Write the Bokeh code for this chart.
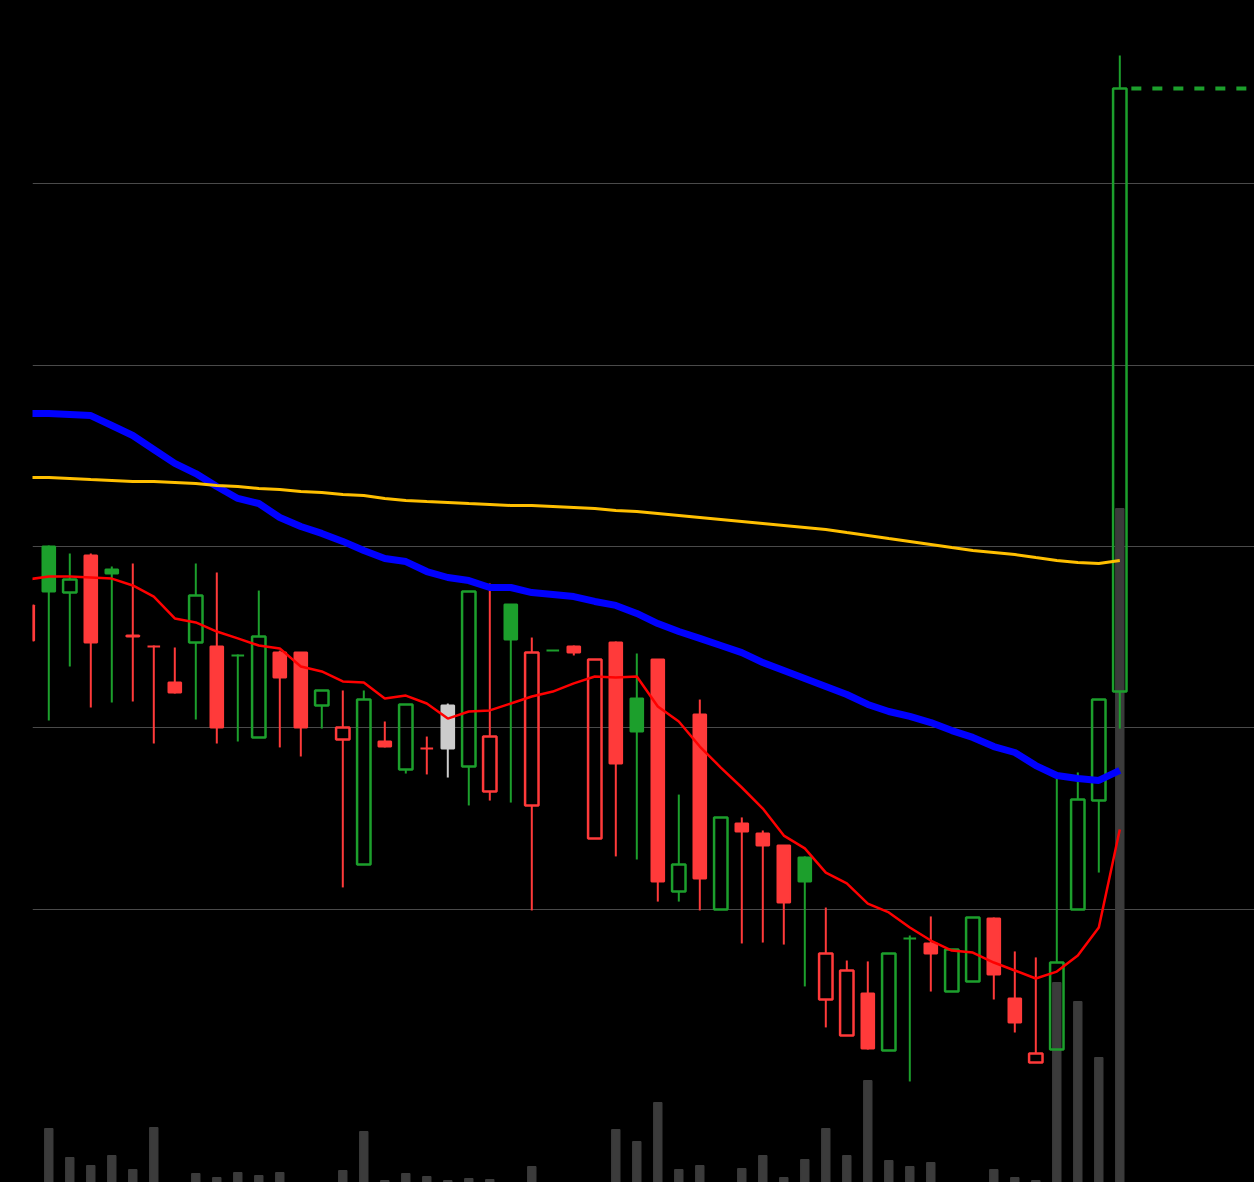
from bokeh.plotting import figure
from bokeh.models import Range1d, FixedTicker, ColumnDataSource, GlobalInlineStyleSheet
from bokeh.embed import file_html
from bokeh.resources import INLINE

# ---------------- data (daily OHLC, price units) ----------------
open_ = [2.675, 3.000, 2.746, 2.950, 2.873, 2.509, 2.449, 2.250, 2.471, 2.449,
         2.399, 1.947, 2.415, 2.415, 2.123, 1.936, 1.246, 1.925, 1.770, 1.886,
         2.123, 1.787, 1.649, 2.680, 1.572, 2.426, 2.449, 1.390, 2.471, 2.162,
         2.377, 1.098, 2.074, 0.998, 1.473, 1.417, 1.351, 1.285, 0.502, 0.304,
         0.535, 0.221, 0.838, 0.811, 0.546, 0.601, 0.949, 0.508, 0.155, 0.226,
         0.998, 1.599, 2.200]
high = [2.713, 3.005, 2.961, 2.961, 2.890, 2.906, 2.454, 2.443, 2.906, 2.857,
        2.404, 2.757, 2.426, 2.415, 2.206, 2.206, 2.206, 2.035, 2.129, 1.952,
        2.134, 2.752, 2.796, 2.680, 2.498, 2.426, 2.454, 2.377, 2.476, 2.410,
        2.377, 1.632, 2.156, 1.506, 1.506, 1.434, 1.351, 1.291, 1.009, 0.717,
        0.712, 0.756, 0.855, 0.960, 0.778, 0.954, 0.954, 0.767, 0.734, 1.737,
        1.754, 2.156, 5.707]
low = [2.426, 2.040, 2.338, 2.112, 2.140, 2.145, 1.914, 2.189, 2.046, 1.914,
       1.925, 1.947, 1.892, 1.842, 1.996, 1.120, 1.246, 1.892, 1.748, 1.743,
       1.726, 1.572, 1.599, 1.588, 0.993, 2.426, 2.399, 1.390, 1.291, 1.274,
       1.042, 1.042, 0.993, 0.998, 0.811, 0.816, 0.805, 0.574, 0.348, 0.304,
       0.226, 0.221, 0.050, 0.546, 0.546, 0.601, 0.502, 0.320, 0.155, 0.226,
       0.998, 1.202, 1.996]
close = [2.482, 2.752, 2.818, 2.471, 2.851, 2.504, 2.449, 2.195, 2.730, 2.002,
         2.399, 2.504, 2.278, 2.002, 2.206, 2.002, 2.156, 1.897, 2.129, 1.886,
         1.886, 2.752, 1.952, 2.487, 2.415, 2.426, 2.415, 2.377, 1.803, 1.980,
         1.153, 1.246, 1.169, 1.506, 1.428, 1.351, 1.037, 1.153, 0.756, 0.662,
         0.232, 0.756, 0.838, 0.756, 0.778, 0.954, 0.640, 0.375, 0.204, 0.706,
         1.605, 2.156, 5.525]
volume_k = [0, 540, 250, 170, 270, 130, 550, 0, 90, 50,
            100, 70, 100, 0, 0, 120, 510, 20, 90, 60,
            20, 40, 30, 0, 160, 0, 0, 0, 530, 410,
            800, 130, 170, 0, 140, 270, 50, 230, 540, 270,
            1020, 220, 160, 200, 0, 0, 130, 50, 20, 2000,
            1810, 1250, 6740]
sma20 = [2.818, 2.835, 2.835, 2.829, 2.823, 2.785, 2.724, 2.603, 2.581, 2.531,
         2.493, 2.454, 2.438, 2.338, 2.311, 2.256, 2.250, 2.162, 2.178, 2.134,
         2.051, 2.090, 2.096, 2.134, 2.173, 2.200, 2.245, 2.283, 2.278, 2.283,
         2.118, 2.035, 1.897, 1.781, 1.671, 1.555, 1.406, 1.335, 1.202, 1.142,
         1.031, 0.982, 0.899, 0.827, 0.772, 0.761, 0.706, 0.662, 0.618, 0.656,
         0.745, 0.899, 1.439]
sma50 = [3.733, 3.733, 3.728, 3.722, 3.667, 3.612, 3.535, 3.458, 3.402, 3.331,
         3.265, 3.237, 3.160, 3.110, 3.072, 3.028, 2.978, 2.934, 2.917, 2.862,
         2.829, 2.812, 2.774, 2.774, 2.746, 2.735, 2.724, 2.697, 2.675, 2.631,
         2.575, 2.531, 2.493, 2.454, 2.415, 2.360, 2.316, 2.272, 2.228, 2.184,
         2.129, 2.090, 2.063, 2.029, 1.985, 1.947, 1.897, 1.864, 1.792, 1.737,
         1.721, 1.710, 1.765]
sma200 = [3.380, 3.380, 3.375, 3.369, 3.364, 3.358, 3.358, 3.353, 3.347, 3.336,
          3.331, 3.320, 3.314, 3.303, 3.298, 3.287, 3.281, 3.265, 3.254, 3.248,
          3.243, 3.237, 3.232, 3.226, 3.226, 3.221, 3.215, 3.209, 3.198, 3.193,
          3.182, 3.171, 3.160, 3.149, 3.138, 3.127, 3.116, 3.105, 3.094, 3.077,
          3.061, 3.044, 3.028, 3.011, 2.994, 2.978, 2.967, 2.956, 2.939, 2.923,
          2.912, 2.906, 2.923]
price_grid = [1, 2, 3, 4, 5]

# ---------------- styling ----------------
GREEN = "#1c9f2c"
RED = "#ff3a3a"
NEUTRAL = "#cccccc"
VOLC = "#3b3b3b"
GRIDC = "#4a4a4a"

n = len(close)
idx = list(range(n))

colors, hollow = [], []
for i in range(n):
    ref = close[i - 1] if i > 0 else open_[i]
    if close[i] > ref:
        colors.append(GREEN)
    elif close[i] < ref:
        colors.append(RED)
    else:
        colors.append(NEUTRAL)
    hollow.append(close[i] > open_[i])

body_top = [max(o, c) for o, c in zip(open_, close)]
body_bot = [min(o, c) for o, c in zip(open_, close)]

X_START, X_END = 0.224, 58.414
Y_START, Y_END = -0.5071, 6.0107

p = figure(width=1254, height=1182, output_backend="svg", toolbar_location=None,
           x_range=Range1d(X_START, X_END), y_range=Range1d(Y_START, Y_END))
p.extra_y_ranges = {"vol": Range1d(0, 11820)}
p.background_fill_color = "#000000"
p.border_fill_color = "#000000"
p.outline_line_color = None
p.min_border = 0
p.min_border_left = 32
p.xaxis.visible = False
p.yaxis.visible = False
p.xgrid.visible = False
p.ygrid.ticker = FixedTicker(ticks=price_grid)
p.ygrid.grid_line_color = GRIDC
p.ygrid.grid_line_width = 1
p.stylesheets = [GlobalInlineStyleSheet(css="html, body { background-color: #000000; }")]

# volume
p.vbar(x=idx, top=volume_k, bottom=0, width=0.4, color=VOLC, y_range_name="vol")

# wicks (not drawn through the body)
wsrc = ColumnDataSource(dict(x=idx, hi=high, lo=low, bt=body_top, bb=body_bot, c=colors))
p.segment(x0="x", y0="hi", x1="x", y1="bt", source=wsrc, line_color="c", line_width=2)
p.segment(x0="x", y0="bb", x1="x", y1="lo", source=wsrc, line_color="c", line_width=2)

# filled bodies
fi = [i for i in range(n) if not hollow[i]]
fsrc = ColumnDataSource(dict(x=[idx[i] for i in fi], t=[body_top[i] for i in fi],
                             b=[body_bot[i] for i in fi], c=[colors[i] for i in fi]))
p.vbar(x="x", top="t", bottom="b", width=0.6, source=fsrc,
       fill_color="c", line_color="c", line_width=2)

# hollow bodies
hi_ = [i for i in range(n) if hollow[i]]
hsrc = ColumnDataSource(dict(x=[idx[i] for i in hi_], t=[body_top[i] for i in hi_],
                             b=[body_bot[i] for i in hi_], c=[colors[i] for i in hi_]))
p.vbar(x="x", top="t", bottom="b", width=0.64, source=hsrc,
       fill_color=None, line_color="c", line_width=2.5)

# moving averages
p.line(idx, sma50, line_color="#0000ff", line_width=7)
p.line(idx, sma200, line_color="#ffbf00", line_width=3)
p.line(idx, sma20, line_color="#ff0000", line_width=2.5)

# last close marker line
p.line([n - 1 + 0.55, X_END], [close[-1], close[-1]], line_color=GREEN,
       line_width=4, line_dash="10 11")

open("out.html", "w").write(file_html(p, INLINE))
